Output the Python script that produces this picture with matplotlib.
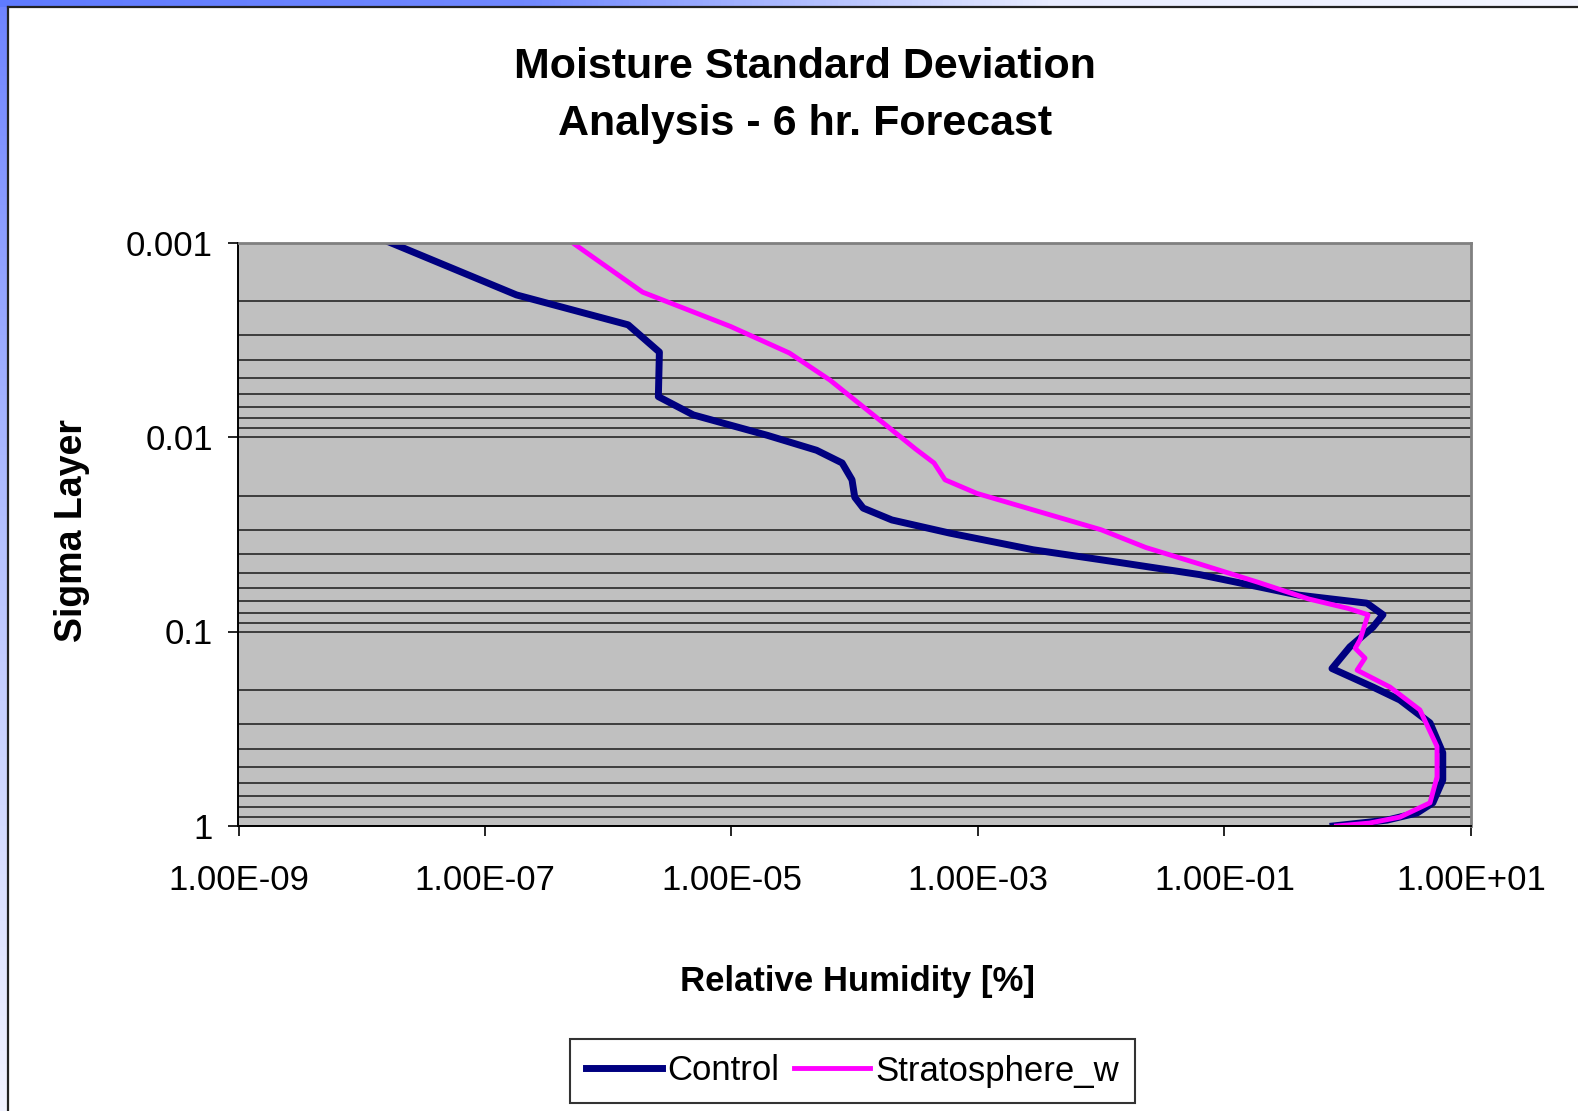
import numpy as np
import matplotlib
matplotlib.use("Agg")
import matplotlib.pyplot as plt
from matplotlib.ticker import FixedLocator, FixedFormatter, LogLocator, NullLocator, NullFormatter

plt.rcParams['font.family'] = ['Liberation Sans', 'DejaVu Sans']

# humidity std-dev profiles (x) against sigma layer (y)
control_rh = [1.7e-8, 1.8e-7, 1.45e-6, 2.6e-6, 2.55e-6, 4.9e-6, 1.95e-5, 4.9e-5, 7.9e-5,
              9.5e-5, 1.0e-4, 1.17e-4, 2.0e-4, 5.9e-4, 2.8e-3, 1.35e-2, 6.3e-2, 0.40,
              1.43, 1.93, 1.6, 1.04, 0.745, 1.6, 2.65, 4.65, 5.9, 5.9, 4.9, 3.65, 2.08, 1.26, 0.76]
control_sigma = [0.001, 0.00186, 0.00265, 0.00366, 0.0062, 0.0077, 0.0098, 0.0117, 0.0136,
                 0.0166, 0.0204, 0.0232, 0.0267, 0.0312, 0.038, 0.044, 0.051, 0.065,
                 0.0715, 0.082, 0.095, 0.12, 0.155, 0.193, 0.225, 0.295, 0.42, 0.58, 0.76,
                 0.857, 0.933, 0.966, 1.0]

strat_rh = [5.1e-7, 1.9e-6, 9.8e-6, 2.95e-5, 6.3e-5, 1.6e-4, 3.1e-4, 4.4e-4,
            5.4e-4, 9.8e-4, 2.8e-3, 1.0e-2, 2.3e-2, 6.3e-2, 0.19, 0.48, 1.0, 1.46, 1.26, 1.15,
            1.38, 1.19, 2.2, 3.85, 5.3, 5.3, 4.65, 2.65, 1.5, 0.81]
strat_sigma = [0.001, 0.0018, 0.0027, 0.0037, 0.0051, 0.0082, 0.0115, 0.0136,
               0.0166, 0.0195, 0.0237, 0.030, 0.037, 0.045, 0.056, 0.068, 0.076, 0.082, 0.110,
               0.122, 0.137, 0.158, 0.193, 0.253, 0.39, 0.56, 0.76, 0.90, 0.966, 1.0]

x_ticks = [1e-9, 1e-7, 1e-5, 1e-3, 1e-1, 1e1]
x_labels = ['1.00E-09', '1.00E-07', '1.00E-05', '1.00E-03', '1.00E-01', '1.00E+01']
y_ticks = [0.001, 0.01, 0.1, 1]
y_labels = ['0.001', '0.01', '0.1', '1']

W, H = 1578, 1111
fig = plt.figure(figsize=(W / 100, H / 100), dpi=100)
fig.patch.set_facecolor('white')

# slide background peeking out at the top and left edges
grad = np.linspace(0, 1, 256)
top = fig.add_axes([0, 1 - 7 / H, 1, 7 / H])
top.imshow(grad[None, :], aspect='auto', cmap=matplotlib.colors.LinearSegmentedColormap.from_list(
    't', ['#5f7bff', '#7088ff', '#e8ecff', '#f4f6ff']), extent=[0, 1, 0, 1])
top.axis('off')
left = fig.add_axes([0, 0, 8 / W, 1 - 7 / H])
left.imshow(grad[:, None], aspect='auto', cmap=matplotlib.colors.LinearSegmentedColormap.from_list(
    'l', ['#6f84ff', '#b8c4ff', '#f2f3ff']), extent=[0, 1, 0, 1])
left.axis('off')
fig.add_artist(plt.Line2D([8 / W, 8 / W], [0, 1 - 7 / H], color='#222222', lw=1.6))
fig.add_artist(plt.Line2D([8 / W, 1], [1 - 7 / H, 1 - 7 / H], color='#222222', lw=1.6))

ax = fig.add_axes([238.5 / W, 1 - 826 / H, (1471 - 238.5) / W, (826 - 242.5) / H])
ax.set_facecolor('#c0c0c0')

ax.plot(control_rh, control_sigma, color='#000080', lw=5, label='Control')
ax.plot(strat_rh, strat_sigma, color='#ff00ff', lw=3.5, label='Stratosphere_w')

ax.set_xscale('log')
ax.set_yscale('log')
ax.set_xlim(1e-9, 1e1)
ax.set_ylim(1, 0.001)

ax.xaxis.set_major_locator(FixedLocator(x_ticks))
ax.xaxis.set_major_formatter(FixedFormatter(x_labels))
ax.xaxis.set_minor_locator(NullLocator())
ax.yaxis.set_major_locator(FixedLocator(y_ticks))
ax.yaxis.set_major_formatter(FixedFormatter(y_labels))
ax.yaxis.set_minor_locator(LogLocator(base=10, subs=np.arange(2, 10)))
ax.yaxis.set_minor_formatter(NullFormatter())

ax.grid(True, axis='y', which='both', color='#1a1a1a', lw=1.1)
ax.set_axisbelow(True)
ax.tick_params(axis='both', which='major', direction='out', length=7.5, width=1.2,
               colors='black', labelsize=25)
ax.tick_params(axis='x', pad=20)
ax.tick_params(axis='y', pad=11)
ax.tick_params(axis='y', which='minor', length=0)

for s in ['top', 'right']:
    ax.spines[s].set_color('#808080')
    ax.spines[s].set_linewidth(2)
for s in ['left', 'bottom']:
    ax.spines[s].set_color('black')
    ax.spines[s].set_linewidth(1.4)

fig.text(805 / W, 1 - 67.5 / H, 'Moisture Standard Deviation', ha='center', va='center',
         fontsize=31, fontweight='bold')
fig.text(805 / W, 1 - 124 / H, 'Analysis - 6 hr. Forecast', ha='center', va='center',
         fontsize=31, fontweight='bold')
fig.text(72 / W, 1 - 531 / H, 'Sigma Layer', rotation=90, ha='center', va='center',
         fontsize=27, fontweight='bold')
fig.text(858 / W, 1 - 981 / H, 'Relative Humidity [%]', ha='center', va='center',
         fontsize=25, fontweight='bold')

leg = fig.legend(loc='center', bbox_to_anchor=(852.5 / W, 1 - 1071 / H), ncol=2,
                 fontsize=25, frameon=True, fancybox=False, edgecolor='black',
                 handlelength=2.2, handletextpad=0.15, columnspacing=0.4,
                 borderpad=0.45, borderaxespad=0)
leg.get_frame().set_linewidth(1.5)

fig.savefig('out.png', dpi=100)
